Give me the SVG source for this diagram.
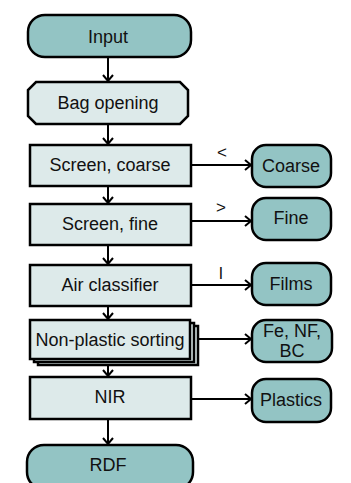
<svg xmlns="http://www.w3.org/2000/svg" width="351" height="483" viewBox="0 0 351 483">
<style>
.term{fill:#93C4C4;stroke:#000;stroke-width:2.5}
.proc{fill:#DDEAEA;stroke:#000;stroke-width:2.5}
.out{fill:#93C4C4;stroke:#000;stroke-width:2.5}
text{font-family:"Liberation Sans",Arial,sans-serif;font-size:18px;fill:#111;text-anchor:middle}
.lbl{font-size:17px}
.conn line{stroke:#000;stroke-width:2;marker-end:url(#arr)}
</style>
<defs>
<marker id="arr" markerUnits="userSpaceOnUse" markerWidth="12" markerHeight="14" viewBox="-8 -7 10 14" refX="0" refY="0" orient="auto">
<path d="M-6,-5 L0,0 L-6,5" fill="none" stroke="#000" stroke-width="2"/>
</marker>
</defs>
<rect width="351" height="483" fill="#fff"/>
<g id="connectors" class="conn">
<line x1="108" y1="57" x2="108" y2="81"/>
<line x1="108" y1="124" x2="108" y2="144"/>
<line x1="108" y1="186" x2="108" y2="203"/>
<line x1="108" y1="245" x2="108" y2="264"/>
<line x1="108" y1="306" x2="108" y2="319"/>
<line x1="108" y1="365" x2="108" y2="376"/>
<line x1="108" y1="419" x2="108" y2="444"/>
<line x1="191" y1="165" x2="251" y2="165"/>
<line x1="191" y1="221" x2="251" y2="221"/>
<line x1="191" y1="285" x2="251" y2="285"/>
<line x1="198" y1="339" x2="251" y2="339"/>
<line x1="191" y1="399" x2="251" y2="399"/>
<text class="lbl" x="222" y="158">&lt;</text>
<text class="lbl" x="221" y="213">&gt;</text>
<text class="lbl" x="221" y="279">l</text>
</g>
<g id="input">
<rect class="term" x="28" y="15" width="163" height="42" rx="17" ry="17"/>
<text x="108" y="43">Input</text>
</g>
<g id="bag-opening">
<polygon class="proc" points="36,82 180,82 188,90 188,116 180,124 36,124 28,116 28,90"/>
<text x="108" y="109">Bag opening</text>
</g>
<g id="screen-coarse">
<rect class="proc" x="30" y="145" width="161" height="41"/>
<text x="110" y="171">Screen, coarse</text>
</g>
<g id="coarse">
<rect class="out" x="252" y="145" width="79" height="42" rx="14" ry="14"/>
<text x="291" y="172">Coarse</text>
</g>
<g id="screen-fine">
<rect class="proc" x="30" y="204" width="161" height="41"/>
<text x="110" y="230">Screen, fine</text>
</g>
<g id="fine">
<rect class="out" x="252" y="198" width="79" height="42" rx="14" ry="14"/>
<text x="291" y="224">Fine</text>
</g>
<g id="air-classifier">
<rect class="proc" x="30" y="265" width="161" height="41"/>
<text x="110" y="291">Air classifier</text>
</g>
<g id="films">
<rect class="out" x="252" y="263" width="79" height="42" rx="14" ry="14"/>
<text x="291" y="290">Films</text>
</g>
<g id="non-plastic-sorting">
<rect class="proc" x="38" y="326" width="160" height="39" stroke-width="2"/>
<rect class="proc" x="34" y="323" width="160" height="39" stroke-width="2"/>
<rect class="proc" x="30" y="320" width="160" height="39"/>
<text x="110" y="346">Non-plastic sorting</text>
</g>
<g id="fe-nf-bc">
<rect class="out" x="252" y="320" width="80" height="42" rx="14" ry="14"/>
<text x="292" y="337">Fe, NF,</text>
<text x="292" y="357">BC</text>
</g>
<g id="nir">
<rect class="proc" x="30" y="377" width="161" height="42"/>
<text x="110" y="403">NIR</text>
</g>
<g id="plastics">
<rect class="out" x="252" y="379" width="79" height="43" rx="14" ry="14"/>
<text x="291" y="406">Plastics</text>
</g>
<g id="rdf">
<rect class="term" x="27" y="445" width="166" height="44" rx="17" ry="17"/>
<text x="108" y="471">RDF</text>
</g>
</svg>
